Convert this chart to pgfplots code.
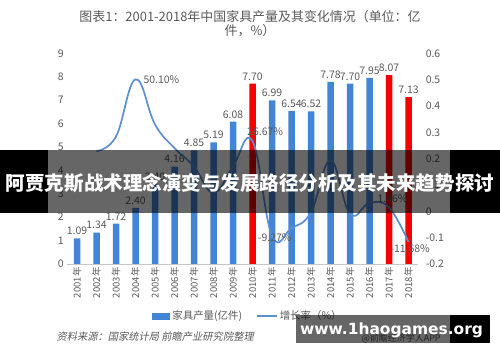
\documentclass[border=0pt]{standalone}
\usepackage{fontspec}
\setmainfont{Noto Sans CJK SC}
\newfontfamily\srcfont[FakeSlant=0.2]{Noto Sans CJK SC}
\newfontfamily\wmfont{DejaVu Sans}
\usepackage{pgfplots}
\pgfplotsset{compat=1.18}
\definecolor{barblue}{HTML}{4285D6}
\definecolor{barred}{HTML}{F70000}
\definecolor{lineblue}{HTML}{5B8FD3}
\definecolor{txtgray}{HTML}{595959}
\pgfplotsset{/pgf/number format/assume math mode=true}
\begin{document}
\begin{tikzpicture}[x=1bp,y=1bp]
\useasboundingbox (0,0) rectangle (500,362);
\begin{axis}[
  at={(67.25bp,98bp)}, anchor=south west, scale only axis,
  width=351bp, height=210.7bp,
  xmin=0.5, xmax=18.5, ymin=0, ymax=9,
  axis line style={draw=none}, major tick length=0pt,
  xtick={1,...,18},
  xticklabels={2001年,2002年,2003年,2004年,2005年,2006年,2007年,2008年,2009年,2010年,2011年,2012年,2013年,2014年,2015年,2016年,2017年,2018年},
  xticklabel style={rotate=90, anchor=east, font=\fontsize{9.5}{10}\selectfont, text=txtgray},
  ytick={0,1,...,9},
  yticklabel style={font=\fontsize{10.5}{12}\selectfont, text=txtgray},
  nodes near coords style={font=\fontsize{10.5}{12}\selectfont, text=txtgray},
  legend style={at={(0.515,-0.247)}, anchor=center, draw=none, fill=none,
    legend columns=2, font=\fontsize{10.5}{12}\selectfont, text=txtgray,
    /tikz/every even column/.append style={column sep=12bp}},
  clip=false,
]
\addplot[ybar, bar width=6.5bp, bar shift=0pt, fill=barblue, draw=none,
  nodes near coords={\pgfmathprintnumber[fixed,fixed zerofill,precision=2]{\pgfplotspointmeta}},
  legend image code/.code={\fill[barblue] (0bp,-3.5bp) rectangle (18bp,3.5bp);}]
  coordinates {(1,1.09)(2,1.34)(3,1.72)(4,2.40)(5,3.40)(6,4.16)(7,4.85)(8,5.19)(9,6.08)
               (11,6.99)(12,6.54)(13,6.52)(14,7.78)(15,7.70)(16,7.95)};
\addlegendentry{家具产量(亿件)}
\addplot[ybar, bar width=6.5bp, bar shift=0pt, fill=barred, draw=none, forget plot,
  nodes near coords={\pgfmathprintnumber[fixed,fixed zerofill,precision=2]{\pgfplotspointmeta}}]
  coordinates {(10,7.70)(17,8.07)(18,7.13)};
\addlegendimage{legend image code/.code={\draw[lineblue,line width=1.6bp] (0bp,0bp) -- (20bp,0bp);}}
\addlegendentry{增长率（\%）}
\draw[gray!45] (axis cs:0.5,0) -- (axis cs:18.5,0);
\end{axis}
\begin{axis}[
  at={(67.25bp,98bp)}, anchor=south west, scale only axis,
  width=351bp, height=210.7bp,
  xmin=0.5, xmax=18.5, ymin=-0.2, ymax=0.6,
  axis line style={draw=none}, major tick length=0pt,
  xtick=\empty,
  ytick={-0.2,-0.1,0,0.1,0.2,0.3,0.4,0.5,0.6},
  yticklabel pos=right,
  yticklabel style={font=\fontsize{10.5}{12}\selectfont, text=txtgray, xshift=4bp},
  clip=false,
]
\addplot[smooth, tension=0.7, lineblue, line width=1.7bp, mark=none]
  coordinates {(2,0.229)(3,0.284)(4,0.501)(5,0.33)(6,0.24)(7,0.17)(8,0.07)(9,0.171)
               (10,0.2667)(11,-0.0927)(12,-0.064)(13,-0.003)(14,0.193)(15,-0.010)
               (16,0.032)(17,0.0146)(18,-0.1168)};
\begin{scope}[every node/.style={font=\fontsize{10.5}{12}\selectfont, text=txtgray, inner sep=1bp}]
\node[anchor=west] at (axis cs:4.35,0.50) {50.10\%};
\node at (axis cs:10.65,0.304) {26.67\%};
\node at (axis cs:11.14,-0.100) {-9.27\%};
\node at (axis cs:17.18,0.048) {1.46\%};
\node at (axis cs:18.08,-0.142) {-11.68\%};
\end{scope}
\end{axis}
% title
\node[text=txtgray, font=\fontsize{13}{14.5}\selectfont, align=center] at (250,338.5)
  {图表1：2001-2018年中国家具产量及其变化情况（单位：亿\\件，\%）};
% source
\node[text=txtgray, font=\srcfont\fontsize{10.3}{12}\selectfont, anchor=west] at (53,25)
  {资料来源：国家统计局 前瞻产业研究院整理};
\node[text=txtgray, font=\fontsize{9}{10}\selectfont, anchor=west] at (358,24) {@前瞻经济学人APP};
% watermark box
\fill[black, opacity=0.6] (296,19) rectangle (450,47);
\fill[black] (450,19) rectangle (490,47);
\node[text=white, font=\wmfont\bfseries\fontsize{15.5}{17}\selectfont] at (391.5,32) {www.1haogames.org};
% banner
\fill[black] (0,149) rectangle (48,212);
\fill[black] (450,149) rectangle (500,212);
\fill[black, opacity=0.6] (48,149) rectangle (450,212);
\node[text=white, font=\bfseries\fontsize{19.6}{20}\selectfont, inner sep=0pt] at (250,179)
  {阿贾克斯战术理念演变与发展路径分析及其未来趋势探讨};
\end{tikzpicture}
\end{document}
